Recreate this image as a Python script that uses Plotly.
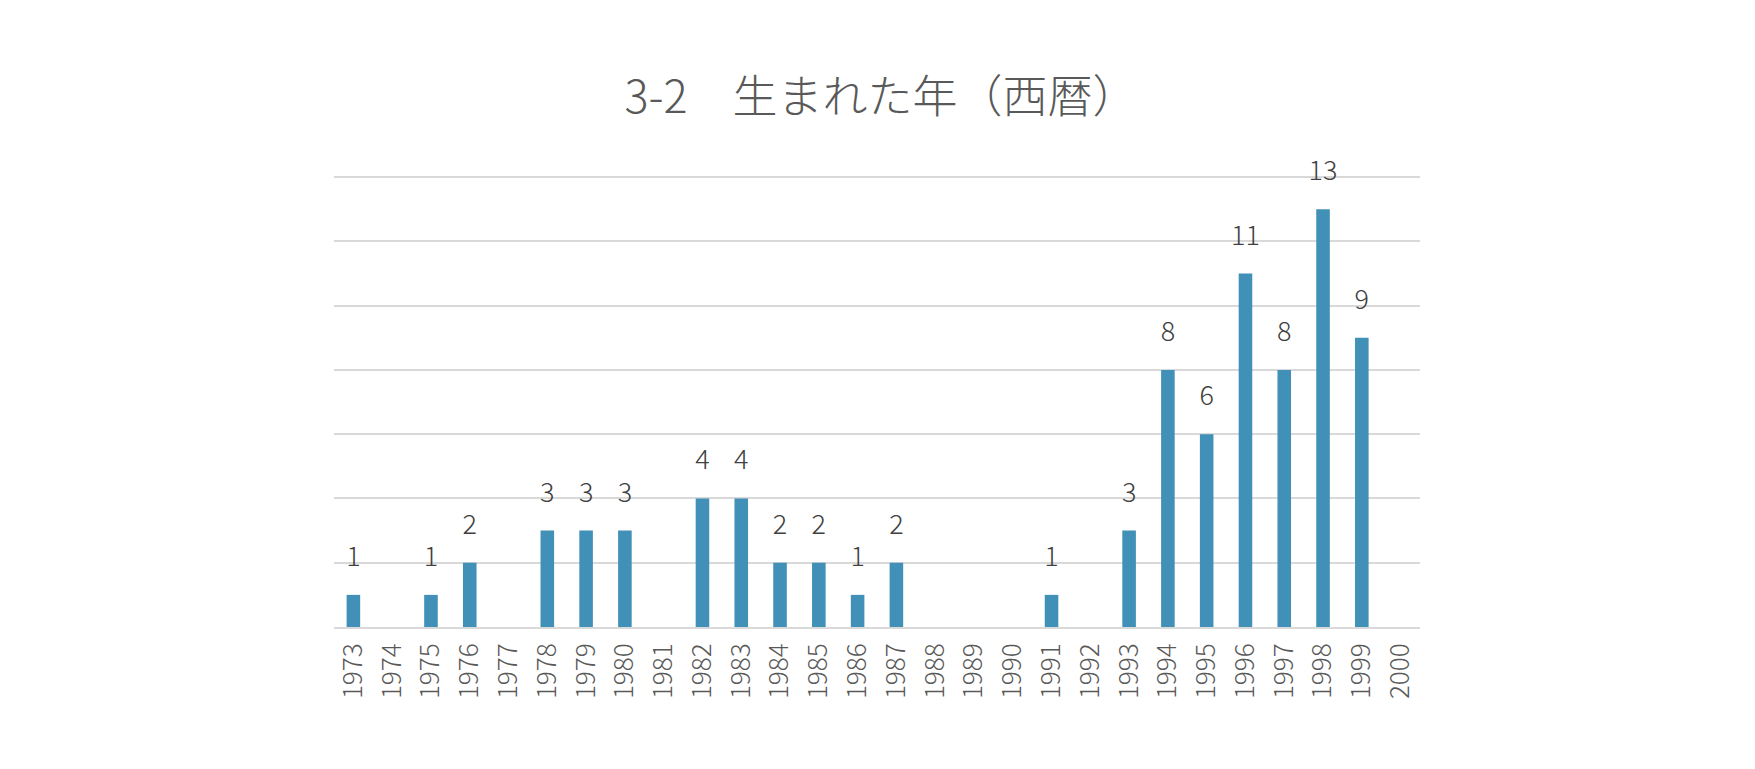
import plotly.graph_objects as go

# 生まれた年（西暦）ごとの人数
years = [str(y) for y in range(1973, 2001)]
counts = [1, None, 1, 2, None, 3, 3, 3, None, 4, 4, 2, 2, 1, 2,
          None, None, None, 1, None, 3, 8, 6, 11, 8, 13, 9, None]

title_text = "3-2\u3000生まれた年（西暦）"

BAR_COLOR = "#4190b8"
GRID_COLOR = "#d9d9d9"
FONT = "Noto Sans CJK JP"

labels = ["" if v is None else str(v) for v in counts]

fig = go.Figure()
fig.add_trace(go.Bar(
    x=years,
    y=counts,
    marker=dict(color=BAR_COLOR, line=dict(width=0)),
    hovertemplate="%{x}: %{y}<extra></extra>",
))
# data labels sit well above each bar (an invisible marker pushes them up)
fig.add_trace(go.Scatter(
    x=years,
    y=counts,
    mode="markers+text",
    text=labels,
    textposition="top center",
    textfont=dict(family=FONT, size=27, color="#404040", weight=300),
    marker=dict(size=34, opacity=0),
    cliponaxis=False,
    hoverinfo="skip",
))

# the html body keeps its default 8px margin, so the figure is a bit smaller
fig.update_layout(
    width=1739,
    height=753,
    margin=dict(l=326, r=327, t=166, b=134),
    paper_bgcolor="white",
    plot_bgcolor="white",
    bargap=0.65,
    showlegend=False,
    title=dict(
        text=title_text,
        x=0.502, xanchor="center",
        y=0.882, yanchor="middle",
        font=dict(family=FONT, size=45, color="#595959", weight=300),
    ),
    xaxis=dict(
        type="category",
        categoryorder="array", categoryarray=years,
        range=[-0.5, len(years) - 0.5],
        tickangle=-90,
        tickfont=dict(family=FONT, size=26, color="#595959", weight=300),
        showgrid=False,
        showline=True, linecolor=GRID_COLOR, linewidth=2,
        ticks="", ticklabelstandoff=4,
    ),
    yaxis=dict(
        range=[0, 14.1],
        dtick=2,
        showticklabels=False,
        showgrid=True, gridcolor=GRID_COLOR, gridwidth=2,
        zeroline=False, showline=False, ticks="",
    ),
)

fig.write_html("out.html")
